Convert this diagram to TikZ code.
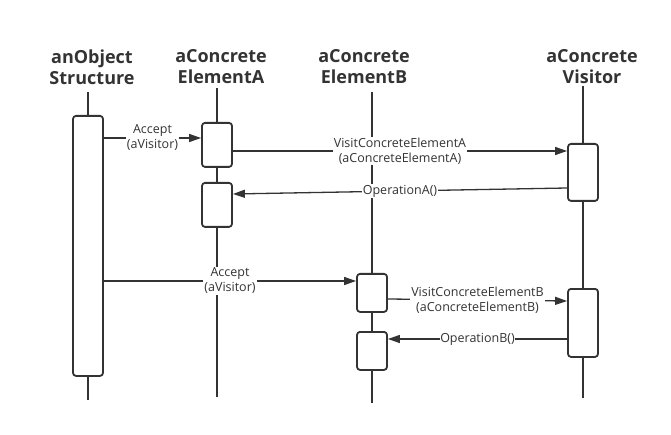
\documentclass[tikz,border=0pt]{standalone}
\usepackage{fontspec}
\setmainfont{Open Sans}
\usetikzlibrary{arrows.meta}
\definecolor{ink}{HTML}{333333}
\begin{document}
\begin{tikzpicture}[x=1pt,y=-1pt,
  hdr/.style={font=\fontsize{18}{21}\selectfont\bfseries, align=center, text=ink, inner sep=0},
  life/.style={draw=ink, line width=1.5pt},
  act/.style={draw=ink, fill=white, rounded corners=3pt, minimum width=30pt, line width=1.8pt, inner sep=0, anchor=north},
  msg/.style={draw=ink, line width=1.3pt, -{Triangle[length=12pt,width=8pt]}},
  lbl/.style={font=\fontsize{12.5}{15}\selectfont, align=center, text=ink, fill=white, inner sep=1pt}
]
\useasboundingbox (0,0) rectangle (671,435);
% headers
\node[hdr] (hS) at (92,67) {anObject\\Structure};
\node[hdr] (hA) at (221,67) {aConcrete\\ElementA};
\node[hdr] (hB) at (364,67) {aConcrete\\ElementB};
\node[hdr] (hV) at (592,67) {aConcrete\\Visitor};
% lifeline ends
\coordinate (Stop) at (88,92);  \coordinate (Sbot) at (88,400);
\coordinate (Atop) at (217,88); \coordinate (Abot) at (217,397);
\coordinate (Btop) at (372,92); \coordinate (Bbot) at (372,403);
\coordinate (Vtop) at (583,86); \coordinate (Vbot) at (583,398);
\draw[life] (Stop) -- (Sbot);
\draw[life] (Atop) -- (Abot);
\draw[life] (Btop) -- (Bbot);
\draw[life] (Vtop) -- (Vbot);
% activation boxes
\node[act, minimum height=260pt] (S) at (88,115) {};
\node[act, minimum height=44pt] (A1) at (217,122) {};
\node[act, minimum height=44pt] (A2) at (217,182) {};
\node[act, minimum height=38pt] (B1) at (372,273) {};
\node[act, minimum height=38pt] (B2) at (372,331) {};
\node[act, minimum height=57pt] (V1) at (583,143) {};
\node[act, minimum height=68pt] (V2) at (583,288) {};
% message heights
\coordinate (y1) at (0,138);
\coordinate (y2) at (0,151);
\coordinate (y3a) at (0,188);
\coordinate (y3b) at (0,194);
\coordinate (y4) at (0,281);
\coordinate (y5a) at (0,299);
\coordinate (y5b) at (0,301);
\coordinate (y6) at (0,339);
% messages
\draw[msg] (S.east |- y1) -- node[lbl] {Accept\\(aVisitor)} (A1.west |- y1);
\draw[msg] (A1.east |- y2) -- node[lbl] {VisitConcreteElementA\\(aConcreteElementA)} (V1.west |- y2);
\draw[msg] (V1.west |- y3a) -- node[lbl, inner sep=0.5pt] {OperationA()} (A2.east |- y3b);
\draw[msg] (S.east |- y4) -- node[lbl] {Accept\\(aVisitor)} (B1.west |- y4);
\draw[msg] (B1.east |- y5a) -- node[lbl] {VisitConcreteElementB\\(aConcreteElementB)} (V2.west |- y5b);
\draw[msg] (V2.west |- y6) -- node[lbl, inner sep=0.5pt] {OperationB()} (B2.east |- y6);
\end{tikzpicture}
\end{document}
